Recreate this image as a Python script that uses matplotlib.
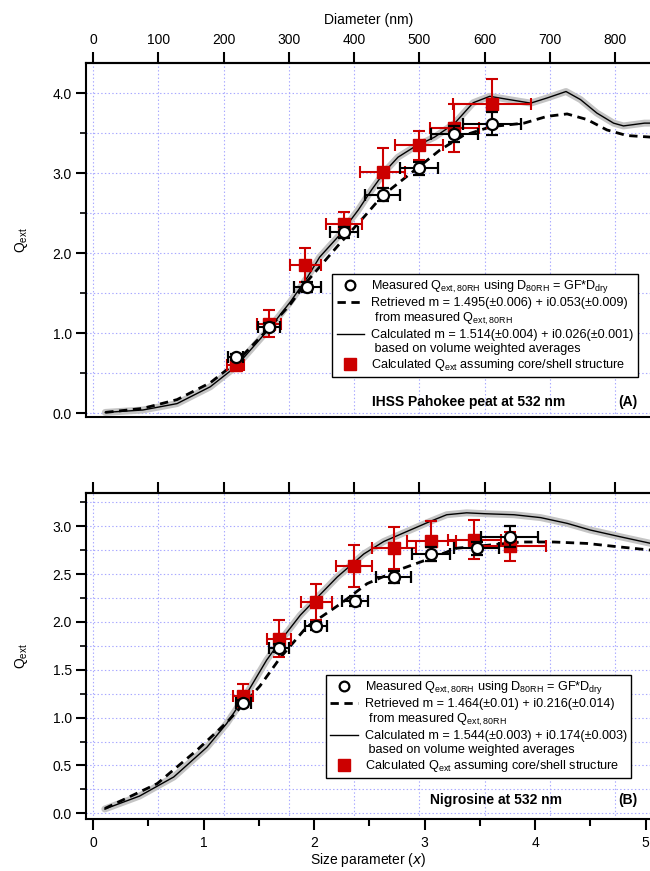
import numpy as np
import matplotlib
matplotlib.use('Agg')
import matplotlib.pyplot as plt
from matplotlib.lines import Line2D
from matplotlib.ticker import MultipleLocator

plt.rcParams['font.family'] = ['Liberation Sans', 'DejaVu Sans']
plt.rcParams['mathtext.default'] = 'regular'
plt.rcParams['lines.scale_dashes'] = False

WAVELENGTH = 532.0

# ---- panel A: IHSS Pahokee peat ----
xa_calc = [0.11, 0.45, 0.76, 1.06, 1.29, 1.59, 1.79, 1.94, 2.05, 2.22, 2.40, 2.52, 2.64, 2.76, 2.91,
           3.09, 3.27, 3.44, 3.59, 3.74, 3.96, 4.11, 4.28, 4.41, 4.56, 4.71, 4.80, 4.99, 5.05]
ya_calc = [0.01, 0.04, 0.12, 0.33, 0.58, 1.05, 1.40, 1.70, 1.95, 2.21, 2.54, 2.79, 3.02, 3.20, 3.33,
           3.45, 3.62, 3.88, 3.96, 3.925, 3.875, 3.94, 4.02, 3.92, 3.75, 3.625, 3.59, 3.625, 3.625]
xa_retr = [0.11, 0.45, 0.76, 1.06, 1.29, 1.59, 1.79, 1.92, 2.22, 2.45, 2.62, 2.95, 3.14, 3.35, 3.60,
           3.90, 4.11, 4.29, 4.47, 4.65, 4.83, 5.05]
ya_retr = [0.01, 0.06, 0.17, 0.38, 0.63, 1.06, 1.37, 1.62, 2.10, 2.45, 2.72, 3.08, 3.29, 3.47, 3.58,
           3.625, 3.71, 3.74, 3.67, 3.54, 3.47, 3.45]

xa_meas = [1.29, 1.59, 1.94, 2.27, 2.62, 2.95, 3.27, 3.61]
ya_meas = [0.70, 1.075, 1.575, 2.26, 2.73, 3.06, 3.49, 3.62]
xa_meas_err = [0.07, 0.10, 0.12, 0.13, 0.16, 0.175, 0.21, 0.26]
ya_meas_err = [0.04, 0.05, 0.06, 0.07, 0.08, 0.08, 0.10, 0.14]

xa_core = [1.29, 1.59, 1.92, 2.27, 2.62, 2.95, 3.27, 3.61]
ya_core = [0.60, 1.12, 1.85, 2.37, 3.02, 3.35, 3.56, 3.87]
xa_core_err = [0.08, 0.11, 0.14, 0.16, 0.20, 0.22, 0.22, 0.35]
ya_core_err = [0.05, 0.17, 0.21, 0.14, 0.30, 0.18, 0.30, 0.31]

labels_a = ['Retrieved m = 1.495(±0.006) + i0.053(±0.009)',
            'Calculated m = 1.514(±0.004) + i0.026(±0.001)']

# ---- panel B: Nigrosine ----
xb_calc = [0.106, 0.42, 0.73, 1.03, 1.21, 1.39, 1.57, 1.72, 1.875, 2.05, 2.21, 2.45, 2.63, 2.87,
           3.05, 3.20, 3.38, 3.56, 3.81, 4.05, 4.29, 4.50, 4.77, 5.05]
yb_calc = [0.045, 0.18, 0.38, 0.69, 0.94, 1.25, 1.60, 1.84, 2.07, 2.28, 2.47, 2.71, 2.84, 2.96,
           3.05, 3.12, 3.14, 3.13, 3.12, 3.09, 3.03, 2.96, 2.89, 2.82]
xb_retr = [0.106, 0.58, 0.94, 1.21, 1.51, 1.69, 1.935, 2.24, 2.48, 2.78, 3.02, 3.29, 3.87, 4.17,
           4.47, 4.71, 5.05]
yb_retr = [0.05, 0.31, 0.66, 0.95, 1.33, 1.62, 1.95, 2.19, 2.40, 2.55, 2.65, 2.77, 2.835, 2.835,
           2.82, 2.79, 2.75]

xb_meas = [1.36, 1.68, 2.02, 2.37, 2.72, 3.06, 3.47, 3.77]
yb_meas = [1.15, 1.73, 1.96, 2.22, 2.47, 2.71, 2.77, 2.89]
xb_meas_err = [0.07, 0.09, 0.10, 0.12, 0.16, 0.17, 0.20, 0.26]
yb_meas_err = [0.03, 0.04, 0.04, 0.05, 0.06, 0.07, 0.07, 0.11]

xb_core = [1.36, 1.68, 2.02, 2.36, 2.72, 3.06, 3.45, 3.77]
yb_core = [1.23, 1.825, 2.21, 2.58, 2.77, 2.845, 2.86, 2.79]
xb_core_err = [0.09, 0.11, 0.14, 0.16, 0.20, 0.22, 0.24, 0.33]
yb_core_err = [0.12, 0.19, 0.19, 0.22, 0.22, 0.21, 0.20, 0.15]

labels_b = ['Retrieved m = 1.464(±0.01) + i0.216(±0.014)',
            'Calculated m = 1.544(±0.003) + i0.174(±0.003)']

RED = '#cc0000'
GRID = '#a8a8ff'


def x_to_d(x):
    return np.asarray(x) * WAVELENGTH / np.pi


def d_to_x(d):
    return np.asarray(d) * np.pi / WAVELENGTH


def draw_panel(ax, calc, retr, meas, core, ylim, ymajor, yminor):
    ax.set_xlim(-0.06, 5.04)
    ax.set_ylim(*ylim)

    # grid: horizontal on y ticks, vertical every 100 nm of diameter
    ax.grid(True, which='both', axis='y', color=GRID, ls=':', lw=0.8)
    for d in range(0, 900, 100):
        ax.axvline(d_to_x(d), color=GRID, ls=':', lw=0.8, zorder=0.5)

    ax.plot(calc[0], calc[1], color='#c4c4c4', lw=5, solid_capstyle='round', zorder=2)
    ax.plot(calc[0], calc[1], color='black', lw=1, zorder=3)
    ax.plot(retr[0], retr[1], color='black', lw=2, ls=(0, (6, 4)), zorder=3)

    ax.errorbar(core[0], core[1], xerr=core[2], yerr=core[3], fmt='s', color=RED, ms=8,
                ecolor=RED, elinewidth=1.5, capsize=4, capthick=1.5, zorder=4)
    ax.errorbar(meas[0], meas[1], xerr=meas[2], yerr=meas[3], fmt='o', mfc='white', mec='black',
                mew=1.6, ms=8, ecolor='black', elinewidth=1.5, capsize=4, capthick=1.5, zorder=5)

    ax.yaxis.set_major_locator(MultipleLocator(ymajor))
    ax.yaxis.set_minor_locator(MultipleLocator(yminor))
    ax.yaxis.set_major_formatter('{x:.1f}')
    ax.tick_params(axis='y', which='major', direction='out', length=7, width=1.5, labelsize=10)
    ax.tick_params(axis='y', which='minor', direction='out', length=4, width=1.2)
    ax.spines['right'].set_visible(False)
    for s in ('left', 'bottom', 'top'):
        ax.spines[s].set_linewidth(1.5)
    ax.set_ylabel('Q$_{ext}$', fontsize=10, labelpad=16)

    sec = ax.secondary_xaxis('top', functions=(x_to_d, d_to_x))
    sec.set_xticks(range(0, 900, 100))
    sec.tick_params(direction='out', length=8, width=1.5, labelsize=10)
    sec.spines['top'].set_linewidth(1.5)
    return sec


def add_legend(ax, labels, anchor):
    handles = [
        Line2D([], [], marker='o', ls='none', mfc='white', mec='black', mew=1.6, ms=7),
        Line2D([], [], color='black', lw=2, ls=(0, (6, 4))),
        Line2D([], [], ls='none'),
        Line2D([], [], color='black', lw=1),
        Line2D([], [], ls='none'),
        Line2D([], [], marker='s', ls='none', color=RED, ms=8),
    ]
    texts = [
        'Measured Q$_{ext,80RH}$ using D$_{80RH}$ = GF*D$_{dry}$',
        labels[0],
        ' from measured Q$_{ext,80RH}$',
        labels[1],
        ' based on volume weighted averages',
        'Calculated Q$_{ext}$ assuming core/shell structure',
    ]
    leg = ax.legend(handles, texts, loc='upper left', bbox_to_anchor=anchor, borderaxespad=0,
                    fontsize=9.1, labelspacing=0.15, handlelength=2.2, handletextpad=0.5,
                    borderpad=0.35, fancybox=False, framealpha=1, edgecolor='black')
    leg.get_frame().set_linewidth(1.0)
    leg.set_zorder(10)


fig = plt.figure(figsize=(6.5, 8.71), dpi=100)
ax_a = fig.add_axes([0.133, 0.521, 0.867, 0.407])
ax_b = fig.add_axes([0.133, 0.0593, 0.867, 0.3750])

sec_a = draw_panel(ax_a, (xa_calc, ya_calc), (xa_retr, ya_retr),
                   (xa_meas, ya_meas, xa_meas_err, ya_meas_err),
                   (xa_core, ya_core, xa_core_err, ya_core_err),
                   (-0.05, 4.38), 1.0, 0.5)
ax_a.tick_params(axis='x', which='both', bottom=False, labelbottom=False)
sec_a.set_xlabel('Diameter (nm)', fontsize=10, labelpad=6)
add_legend(ax_a, labels_a, (0.436, 0.404))
ax_a.text(0.679, 0.042, 'IHSS Pahokee peat at 532 nm', transform=ax_a.transAxes,
          ha='center', va='center', fontsize=10, fontweight='bold')
ax_a.text(0.961, 0.042, '(A)', transform=ax_a.transAxes,
          ha='center', va='center', fontsize=10, fontweight='bold')

sec_b = draw_panel(ax_b, (xb_calc, yb_calc), (xb_retr, yb_retr),
                   (xb_meas, yb_meas, xb_meas_err, yb_meas_err),
                   (xb_core, yb_core, xb_core_err, yb_core_err),
                   (-0.063, 3.35), 0.5, 0.25)
sec_b.tick_params(labeltop=False)
ax_b.xaxis.set_major_locator(MultipleLocator(1))
ax_b.xaxis.set_minor_locator(MultipleLocator(0.5))
ax_b.tick_params(axis='x', which='major', direction='out', length=8, width=1.5, labelsize=10, pad=4)
ax_b.tick_params(axis='x', which='minor', direction='out', length=5, width=1.5)
ax_b.set_xlabel('Size parameter ($\\mathit{x}$)', fontsize=10, labelpad=1)
add_legend(ax_b, labels_b, (0.425, 0.442))
ax_b.text(0.727, 0.059, 'Nigrosine at 532 nm', transform=ax_b.transAxes,
          ha='center', va='center', fontsize=10, fontweight='bold')
ax_b.text(0.961, 0.059, '(B)', transform=ax_b.transAxes,
          ha='center', va='center', fontsize=10, fontweight='bold')

fig.savefig('out.png', dpi=100)
